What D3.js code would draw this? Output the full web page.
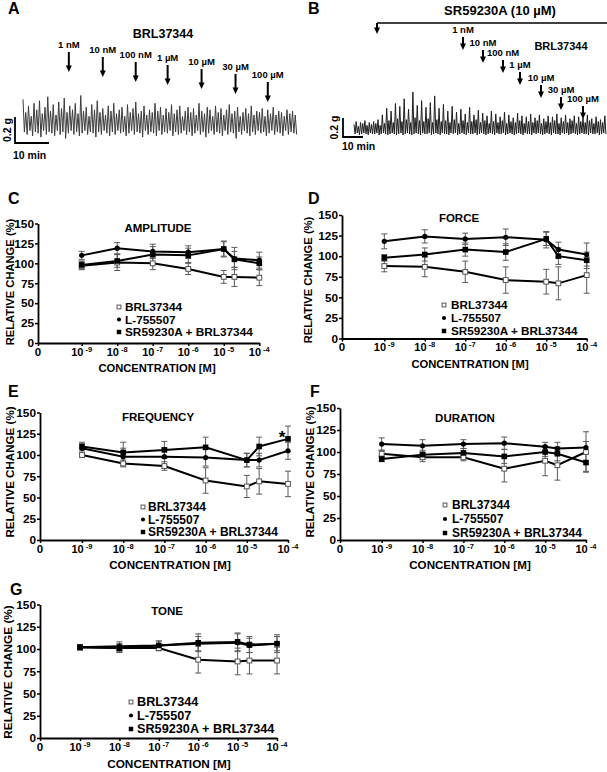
<!DOCTYPE html>
<html>
<head>
<meta charset="utf-8">
<script src="https://cdn.jsdelivr.net/npm/d3@7"></script>
<style>
body { margin: 0; background: #fff; }
text { font-family: "Liberation Sans", Arial, sans-serif; font-weight: bold; fill: #000; }
</style>
</head>
<body>
<svg id="fig" width="607" height="772"></svg>
<script>
// ---- data ----
var concLabels = ["1 nM", "10 nM", "100 nM", "1 \u00b5M", "10 \u00b5M", "30 \u00b5M", "100 \u00b5M"];
var concLog = [-9, -8, -7, -6, -5, -4.7, -4];   // where the points sit on the log axis
var xTickExp = [-9, -8, -7, -6, -5, -4];
var yTicks = [0, 25, 50, 75, 100, 125, 150];
var seriesNames = ["BRL37344", "L-755507", "SR59230A + BRL37344"];

// C amplitude
var ampBRL = [97, 101, 100, 93, 83, 83, 82];
var ampBRLse = [5, 10, 8, 7, 8, 12, 10];
var ampL = [110, 119, 115, 114, 118, 106, 104];
var ampLse = [5, 7, 9, 8, 10, 14, 10];
var ampSR = [98, 103, 111, 110, 118, 105, 100];
var ampSRse = [5, 8, 10, 9, 9, 10, 8];
// D force
var forBRL = [88, 87, 81, 71, 69, 67, 77];
var forBRLse = [7, 12, 13, 16, 15, 20, 22];
var forL = [118, 124, 121, 123, 120, 108, 102];
var forLse = [9, 8, 7, 10, 10, 9, 14];
var forSR = [98, 102, 108, 105, 121, 100, 95];
var forSRse = [4, 8, 8, 10, 8, 10, 10];
// E frequency
var freqBRL = [100, 90, 87, 70, 63, 69, 66];
var freqBRLse = [3, 4, 5, 15, 13, 15, 15];
var freqL = [108, 98, 98, 97, 94, 94, 105];
var freqLse = [5, 10, 10, 10, 8, 8, 10];
var freqSR = [110, 103, 106, 109, 94, 110, 119];
var freqSRse = [5, 12, 10, 12, 8, 11, 15];
// F duration
var durBRL = [98, 94, 94, 81, 90, 85, 100];
var durBRLse = [4, 5, 4, 15, 17, 17, 23];
var durL = [109, 107, 109, 110, 106, 104, 105];
var durLse = [7, 7, 5, 7, 5, 7, 7];
var durSR = [92, 97, 99, 95, 100, 98, 88];
var durSRse = [3, 5, 5, 8, 5, 8, 10];
// G tone
var toneBRL = [102, 101, 101, 88, 86, 87, 87];
var toneBRLse = [3, 4, 3, 15, 15, 15, 15];
var toneL = [102, 103, 104, 106, 107, 104, 106];
var toneLse = [3, 5, 5, 8, 10, 8, 8];
var toneSR = [102, 101, 104, 107, 108, 105, 106];
var toneSRse = [3, 5, 5, 10, 10, 9, 10];

// traces (g), spike peaks and troughs
var peaksA = [0.22,0.12,0.17,0.09,0.19,0.14,0.21,0.11,0.16,0.24,
  0.13,0.18,0.10,0.20,0.15,0.23,0.12,0.17,0.14,0.19,
  0.11,0.25,0.13,0.16,0.09,0.18,0.14,0.21,0.12,0.15,
  0.10,0.17,0.13,0.19,0.11,0.14,0.16,0.09,0.18,0.12,
  0.15,0.20,0.11,0.13,0.17,0.10,0.14,0.12,0.19,0.13,
  0.16,0.10,0.15,0.12,0.18,0.11,0.14,0.17,0.09,0.13,
  0.16,0.12,0.15,0.10,0.19,0.13,0.11,0.16,0.14,0.09,
  0.17,0.12,0.15,0.10,0.14,0.18,0.11,0.13,0.16,0.09,
  0.12,0.15,0.11,0.17,0.10,0.13,0.12,0.15,0.09,0.14,
  0.11,0.16,0.10,0.13,0.12,0.09,0.14,0.11,0.13,0.10];
var troughsA = [-0.03,-0.05,-0.02,-0.06,-0.03,-0.04,-0.07,-0.02,-0.05,-0.03,
  -0.04,-0.06,-0.02,-0.05,-0.03,-0.08,-0.04,-0.02,-0.05,-0.03,
  -0.06,-0.04,-0.02,-0.05,-0.03,-0.04,-0.07,-0.03,-0.05,-0.02,
  -0.04,-0.06,-0.03,-0.05,-0.02,-0.04,-0.03,-0.06,-0.04,-0.02,
  -0.05,-0.03,-0.04,-0.07,-0.02,-0.05,-0.03,-0.04,-0.06,-0.02,
  -0.05,-0.03,-0.04,-0.02,-0.06,-0.03,-0.05,-0.04,-0.02,-0.05,
  -0.03,-0.06,-0.04,-0.02,-0.05,-0.03,-0.07,-0.04,-0.02,-0.05,
  -0.03,-0.04,-0.06,-0.02,-0.05,-0.03,-0.04,-0.08,-0.03,-0.05,
  -0.02,-0.04,-0.06,-0.03,-0.05,-0.02,-0.04,-0.03,-0.06,-0.04,
  -0.02,-0.05,-0.03,-0.04,-0.06,-0.02,-0.05,-0.03,-0.04,-0.05];
var peaksB = [0.08,0.11,0.06,0.10,0.09,0.12,0.07,0.10,0.08,0.11,0.09,0.13,0.07,
  0.18,0.09,0.25,0.12,0.22,0.10,0.30,0.14,0.27,0.11,0.35,0.13,0.24,0.10,0.42,0.15,0.28,
  0.12,0.33,0.11,0.26,0.14,0.31,0.10,0.38,0.13,0.25,
  0.11,0.29,0.12,0.22,0.10,0.27,0.13,0.21,0.09,0.24,0.12,0.19,0.10,0.26,0.11,
  0.18,0.13,0.23,0.10,0.20,0.12,0.17,0.09,0.22,0.11,0.19,0.10,0.16,0.12,0.21,
  0.09,0.18,0.11,0.15,0.10,0.20,0.12,0.17,0.09,0.16,0.11,0.19,0.10,0.15,0.12,
  0.18,0.09,0.14,0.11,0.17,0.10,0.16,0.12,0.19,0.09,0.15,0.11,0.18,0.10,0.14,
  0.12,0.17,0.09,0.16,0.11,0.15,0.10,0.18,0.12,0.14,0.09,0.16,0.11,0.13,0.10,0.17];
var troughsB = [-0.02,-0.01,-0.03,-0.02,-0.01,-0.02,-0.03,-0.01,-0.02,-0.02,
  -0.01,-0.03,-0.02,-0.01,-0.02,-0.03,-0.02,-0.01,-0.02,-0.03,
  -0.02,-0.01,-0.03,-0.02,-0.01,-0.02,-0.03,-0.02,-0.01,-0.02,
  -0.03,-0.01,-0.02,-0.02,-0.01,-0.03,-0.02,-0.01,-0.02,-0.03,
  -0.01,-0.02,-0.02,-0.03,-0.01,-0.02,-0.01,-0.03,-0.02,-0.01,
  -0.02,-0.03,-0.01,-0.02,-0.02,-0.01,-0.03,-0.02,-0.01,-0.02,
  -0.03,-0.02,-0.01,-0.02,-0.03,-0.01,-0.02,-0.02,-0.01,-0.03,
  -0.02,-0.01,-0.02,-0.03,-0.02,-0.01,-0.02,-0.03,-0.01,-0.02,
  -0.02,-0.03,-0.01,-0.02,-0.01,-0.02,-0.03,-0.02,-0.01,-0.02,
  -0.03,-0.01,-0.02,-0.02,-0.03,-0.01,-0.02,-0.01,-0.03,-0.02,
  -0.01,-0.02,-0.03,-0.02,-0.01,-0.02,-0.02,-0.03,-0.01,-0.02,
  -0.02,-0.01,-0.03,-0.02,-0.01,-0.02];
// times of drug additions (min)
var addTimesA = [13.5, 23.5, 33.2, 42.6, 52.6, 62.6, 72.1];
var addTimesB = [54.5, 64.5, 74.5, 83, 93.5, 103.5, 114.5];
var srTimeB = 11.5;

var svg = d3.select("#fig");

function letter(t, x, y) {
  svg.append("text").attr("x", x).attr("y", y).attr("font-size", 16).text(t);
}

function arrow(x, y1, y2) {
  svg.append("line").attr("x1", x).attr("x2", x).attr("y1", y1).attr("y2", y2 - 4)
    .attr("stroke", "#000").attr("stroke-width", 2);
  svg.append("path").attr("d", d3.line()([[x - 3, y2 - 6.5], [x + 3, y2 - 6.5], [x, y2]]) + "Z")
    .attr("fill", "#000");
}

function drawTrace(peaks, troughs, t, y, tEnd, col) {
  var n = peaks.length, pts = [];
  peaks.forEach(function(p, i) {
    pts.push([t(tEnd * i / n), y(p)]);
    pts.push([t(tEnd * (i + 0.5) / n), y(troughs[i] || 0)]);
  });
  svg.append("path").attr("d", d3.line()(pts))
    .attr("fill", "none").attr("stroke", col).attr("stroke-width", 1);
}

function scaleBar(t, y, bx, by, gx, minX, minY) {
  var h = y(0) - y(0.2), w = t(10) - t(0);
  svg.append("path").attr("d", d3.line()([[bx, by - h], [bx, by], [bx + w, by]]))
    .attr("fill", "none").attr("stroke", "#000").attr("stroke-width", 1.8);
  svg.append("text").attr("transform", "translate(" + gx + "," + (by - h / 2) + ") rotate(-90)")
    .attr("text-anchor", "middle").attr("font-size", 10.5).text("0.2 g");
  svg.append("text").attr("x", minX).attr("y", minY).attr("font-size", 10.5).text("10 min");
}

// ---- A ----
letter("A", 8, 14);
var tA = d3.scaleLinear().domain([0, 81]).range([23, 298]);
var yA = d3.scaleLinear().domain([0, 0.2]).range([128, 102]);
drawTrace(peaksA, troughsA, tA, yA, 81, "#3c3c3c");
svg.append("text").attr("x", 163).attr("y", 38).attr("text-anchor", "middle").attr("font-size", 12.5).text("BRL37344");
var labYA = [48, 53, 58, 61, 65, 70, 78];
addTimesA.forEach(function(tm, i) {
  var x = tA(tm);
  svg.append("text").attr("x", x).attr("y", labYA[i]).attr("text-anchor", "middle").attr("font-size", 9.5).text(concLabels[i]);
  arrow(x, labYA[i] + 4, labYA[i] + 24);
});
scaleBar(tA, yA, 15, 143, 10.5, 13, 159);

// ---- B ----
letter("B", 308, 14);
var tB = d3.scaleLinear().domain([0, 126.5]).range([354, 607]);
var yB = d3.scaleLinear().domain([0, 0.2]).range([132, 113]);
drawTrace(peaksB, troughsB, tB, yB, 126.5, "#1e1e1e");
svg.append("text").attr("x", 500).attr("y", 15).attr("text-anchor", "middle").attr("font-size", 13).text("SR59230A (10 \u00b5M)");
svg.append("line").attr("x1", tB(srTimeB)).attr("x2", 607).attr("y1", 23).attr("y2", 23)
  .attr("stroke", "#000").attr("stroke-width", 1.5);
arrow(tB(srTimeB), 23, 34);
svg.append("text").attr("x", 561).attr("y", 50).attr("text-anchor", "middle").attr("font-size", 11).text("BRL37344");
var labYB = [33, 46, 56, 68, 81, 93, 102];
addTimesB.forEach(function(tm, i) {
  var x = tB(tm);
  svg.append("text").attr("x", x).attr("y", labYB[i]).attr("text-anchor", "middle").attr("font-size", 9.5).text(concLabels[i]);
  arrow(x, labYB[i] + 4, labYB[i] + 17);
});
scaleBar(tB, yB, 343, 137, 338, 342, 150);

// ---- C to G ----
function panel(c) {
  var g = svg.append("g");
  var dec = (c.p4 - c.p9) / 5;
  var lo = -9 - (c.p9 - c.x0) / dec;
  var x = d3.scaleLinear().domain([lo, -4]).range([c.x0, c.p4]);
  var y = d3.scaleLinear().domain([0, 150]).range([c.y0, c.y150]);

  var ya = g.append("g").attr("transform", "translate(" + c.x0 + ",0)")
    .call(d3.axisLeft(y).tickValues(yTicks).tickSize(3).tickSizeOuter(0).tickPadding(1));
  var xa = g.append("g").attr("transform", "translate(0," + c.y0 + ")")
    .call(d3.axisBottom(x).tickValues([lo].concat(xTickExp)).tickSize(3).tickSizeOuter(0).tickFormat(""));
  [ya, xa].forEach(function(a) {
    a.attr("font-family", null).attr("font-size", 11.8);
    a.select(".domain").attr("stroke-width", 1.8);
    a.selectAll(".tick line").attr("stroke-width", 1.5);
  });

  // x tick labels
  g.append("text").attr("x", x(lo)).attr("y", c.y0 + 12.5).attr("text-anchor", "middle").attr("font-size", 11.5).text("0");
  xTickExp.forEach(function(e) {
    var t = g.append("text").attr("x", x(e)).attr("y", c.y0 + 12.5).attr("text-anchor", "middle").attr("font-size", 11);
    t.append("tspan").text("10");
    t.append("tspan").attr("dy", -4).attr("font-size", 7.5).text(" " + e);
  });

  g.append("text").attr("x", c.xl[0]).attr("y", c.xl[1]).attr("text-anchor", "middle").attr("font-size", c.xlf).text("CONCENTRATION [M]");
  g.append("text").attr("transform", "translate(" + c.yl[0] + "," + c.yl[1] + ") rotate(-90)")
    .attr("text-anchor", "middle").attr("font-size", c.xlf).text("RELATIVE CHANGE (%)");
  g.append("text").attr("x", c.tt[0]).attr("y", c.tt[1]).attr("text-anchor", "middle").attr("font-size", 11.5).text(c.title);
  letter(c.id, c.lt[0], c.lt[1]);

  var series = [
    { m: c.brl, se: c.brlSe, sym: "open" },
    { m: c.lig, se: c.ligSe, sym: "circle" },
    { m: c.sr, se: c.srSe, sym: "square" }
  ];
  // error bars
  series.forEach(function(s) {
    s.m.forEach(function(v, i) {
      var px = x(concLog[i]);
      g.append("path").attr("fill", "none").attr("stroke", "#5a5a5a").attr("stroke-width", 1)
        .attr("d", "M" + px + "," + y(v - s.se[i]) + "V" + y(v + s.se[i]) +
          "M" + (px - 3) + "," + y(v - s.se[i]) + "h6M" + (px - 3) + "," + y(v + s.se[i]) + "h6");
    });
  });
  var line = d3.line().x(function(d, i) { return x(concLog[i]); }).y(function(d) { return y(d); });
  series.forEach(function(s) {
    g.append("path").datum(s.m).attr("d", line).attr("fill", "none").attr("stroke", "#000").attr("stroke-width", 2);
  });
  function mark(sel, sym, px, py, big) {
    var k = big ? 1 : 0.8;
    if (sym === "circle") {
      sel.append("circle").attr("cx", px).attr("cy", py).attr("r", 2.6 * k).attr("fill", "#000");
    } else if (sym === "square") {
      sel.append("rect").attr("x", px - 2.8 * k).attr("y", py - 2.8 * k).attr("width", 5.6 * k).attr("height", 5.6 * k).attr("fill", "#000");
    } else {
      sel.append("rect").attr("x", px - 2.4 * k).attr("y", py - 2.4 * k).attr("width", 4.8 * k).attr("height", 4.8 * k)
        .attr("fill", "#fff").attr("stroke", "#555").attr("stroke-width", 1);
    }
  }
  series.forEach(function(s) {
    s.m.forEach(function(v, i) { mark(g, s.sym, x(concLog[i]), y(v), true); });
  });

  // star
  if (c.star != null) {
    g.append("text").attr("x", x(concLog[c.star]) - 6).attr("y", y(c.sr[c.star] + c.srSe[c.star]) + 17)
      .attr("text-anchor", "middle").attr("font-size", 17).text("*");
  }

  // legend
  seriesNames.forEach(function(n, i) {
    var cy = c.lg[2] + i * c.lg[3];
    mark(g, series[i].sym, c.lg[0], cy, false);
    g.append("text").attr("x", c.lg[1]).attr("y", cy + 4.2).attr("font-size", c.lg[4]).text(n);
  });
}

panel({ id: "C", title: "AMPLITUDE", x0: 38, p9: 81.7, p4: 259.3, y0: 343, y150: 223.5,
  tt: [158, 232], lt: [8, 204], yl: [14, 282], xl: [157, 372], xlf: 11.2, lg: [119, 125, 307, 12.5, 11.8],
  brl: ampBRL, brlSe: ampBRLse, lig: ampL, ligSe: ampLse, sr: ampSR, srSe: ampSRse });
panel({ id: "D", title: "FORCE", x0: 342, p9: 384.3, p4: 586.7, y0: 338.5, y150: 215,
  tt: [459, 222], lt: [308, 204], yl: [312, 280], xl: [470, 368], xlf: 11.2, lg: [444, 451, 305, 13, 11.7],
  brl: forBRL, brlSe: forBRLse, lig: forL, ligSe: forLse, sr: forSR, srSe: forSRse });
panel({ id: "E", title: "FREQUENCY", x0: 40, p9: 82, p4: 288, y0: 540, y150: 412.5,
  tt: [158, 421], lt: [8, 397], yl: [14, 472], xl: [170, 569], xlf: 11.6, lg: [143, 148, 507, 12.5, 12],
  brl: freqBRL, brlSe: freqBRLse, lig: freqL, ligSe: freqLse, sr: freqSR, srSe: freqSRse, star: 6 });
panel({ id: "F", title: "DURATION", x0: 340, p9: 381.7, p4: 586, y0: 540, y150: 408,
  tt: [465, 422], lt: [310, 397], yl: [314, 472], xl: [470, 569], xlf: 11.6, lg: [445, 452, 505, 14, 12],
  brl: durBRL, brlSe: durBRLse, lig: durL, ligSe: durLse, sr: durSR, srSe: durSRse });
panel({ id: "G", title: "TONE", x0: 40, p9: 80, p4: 277, y0: 738, y150: 604.5,
  tt: [167, 615], lt: [10, 595], yl: [12, 672], xl: [169, 768], xlf: 11.8, lg: [131, 137, 702, 13.5, 12.7],
  brl: toneBRL, brlSe: toneBRLse, lig: toneL, ligSe: toneLse, sr: toneSR, srSe: toneSRse });
</script>
</body>
</html>
